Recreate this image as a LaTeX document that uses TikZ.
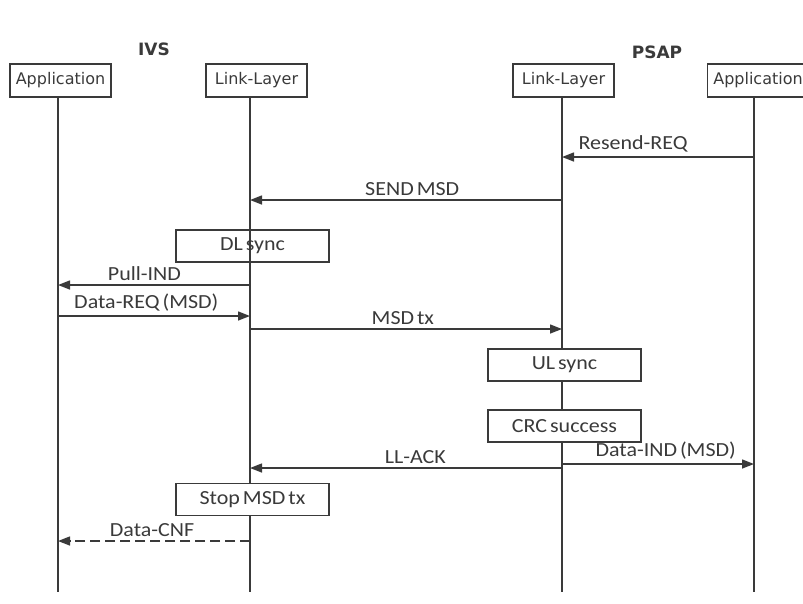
\documentclass[tikz,border=0pt]{standalone}
\usepackage{fontspec}
\setmainfont{Carlito}[FakeStretch=1.1,WordSpace=0.6]
\newfontfamily\headfont{DejaVu Sans}
\usetikzlibrary{positioning}
\usetikzlibrary{arrows.meta}
\definecolor{seqgray}{HTML}{3A3A3A}
\tikzset{
        msgtext/.style={text=seqgray,font=\fontsize{20}{22}\selectfont},
        % Lifeline heads
        node_head/.style={draw=seqgray, line width=1.3pt, text=seqgray, rectangle, inner sep=2pt, minimum width=101pt, minimum height=33pt, font=\headfont\fontsize{16}{18}\selectfont},
        % Side titles
        node_title/.style={text=seqgray, font=\headfont\bfseries\fontsize{17}{19}\selectfont},
        % Process boxes on a lifeline
        node_proc/.style={msgtext, draw=seqgray, line width=1.3pt, rectangle, minimum width=153pt, minimum height=32pt},
        % Lifelines
        life/.style={draw=seqgray, line width=1.4pt},
        % Messages
        msg/.style={draw=seqgray, line width=1.4pt, -{Triangle[length=12pt,width=9pt]}},
        msg_reply/.style={msg, dash pattern=on 10pt off 5pt},
        msglabel/.style={msgtext, above=3pt, inner sep=1pt}
}
\begin{document}
\begin{tikzpicture}[x=1pt,y=-1pt]
            \useasboundingbox (0,0) rectangle (803,603);
            % titles and lifeline heads
            \node[node_title] (ivs) at (154,49) {IVS};
            \node[node_title] (psap) at (657,52) {PSAP};
            \node[node_head] (app_ivs) at (60.5,80.5) {Application};
            \node[node_head] (ll_ivs) at (256.5,80.5) {Link-Layer};
            \node[node_head] (ll_psap) at (563.5,80.5) {Link-Layer};
            \node[node_head] (app_psap) at (758,80.5) {Application};
            % lifelines
            \coordinate (a1) at (58,97);   \coordinate (a1_end) at (58,592);
            \coordinate (l1) at (250,97);  \coordinate (l1_end) at (250,592);
            \coordinate (l2) at (562,97);  \coordinate (l2_end) at (562,592);
            \coordinate (a2) at (754,97);  \coordinate (a2_end) at (754,592);
            \draw[life] (a1) -- (a1_end);
            \draw[life] (l1) -- (l1_end);
            \draw[life] (l2) -- (l2_end);
            \draw[life] (a2) -- (a2_end);
            % processing boxes
            \node[node_proc] (dl_sync) at (252.5,246) {DL sync};
            \node[node_proc, fill=white] (ul_sync) at (564.5,365) {UL sync};
            \node[node_proc, fill=white] (crc_ok) at (564.5,426) {CRC success};
            \node[node_proc, fill=white] (stop_tx) at (252.5,499.5) {Stop MSD tx};
            % message end points
            \coordinate (resend_a) at (754,157);  \coordinate (resend_b) at (562,157);
            \coordinate (send_a) at (562,200);    \coordinate (send_b) at (250,200);
            \coordinate (pull_a) at (250,285);    \coordinate (pull_b) at (58,285);
            \coordinate (req_a) at (58,316);      \coordinate (req_b) at (250,316);
            \coordinate (tx_a) at (250,329);      \coordinate (tx_b) at (562,329);
            \coordinate (ack_a) at (562,468);     \coordinate (ack_b) at (250,468);
            \coordinate (ind_a) at (562,464);     \coordinate (ind_b) at (754,464);
            \coordinate (cnf_a) at (250,541);     \coordinate (cnf_b) at (58,541);
            % messages
            \draw[msg] (resend_a) -- node[msglabel, pos=0.63] {Resend-REQ} (resend_b);
            \draw[msg] (send_a) -- node[msglabel, pos=0.48] {SEND MSD} (send_b);
            \draw[msg] (pull_a) -- node[msglabel, pos=0.55] {Pull-IND} (pull_b);
            \draw[msg] (req_a) -- node[msglabel, pos=0.46] {Data-REQ (MSD)} (req_b);
            \draw[msg] (tx_a) -- node[msglabel, pos=0.49] {MSD tx} (tx_b);
            \draw[msg] (ack_a) -- node[msglabel, pos=0.47] {LL-ACK} (ack_b);
            \draw[msg] (ind_a) -- node[msglabel, pos=0.54] {Data-IND (MSD)} (ind_b);
            \draw[msg_reply] (cnf_a) -- node[msglabel, pos=0.51] {Data-CNF} (cnf_b);
        \end{tikzpicture}
\end{document}
